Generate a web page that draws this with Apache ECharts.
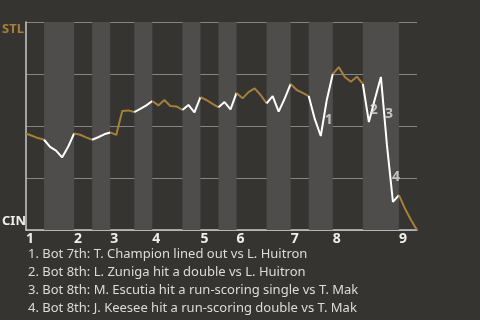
<!DOCTYPE html>
<html><head><meta charset="utf-8">
<script src="https://cdn.jsdelivr.net/npm/echarts@6/dist/echarts.min.js"></script>
<style>html,body{margin:0;padding:0;background:#363431;}#c{width:480px;height:320px;}</style>
</head><body><div id="c"></div>
<script>
// events per half-inning (T1, B1, T2, B2, ...)
const halfInningEvents = [3,5,3,3,4,3,5,3,3,3,5,4,3,4,5,6,3];
// STL win probability after each event (index 0 = game start)
const winProb = [
  0.464, 0.453, 0.442, 0.434,
  0.400, 0.382, 0.349, 0.400, 0.464,
  0.458, 0.445, 0.434,
  0.446, 0.460, 0.469,
  0.457, 0.572, 0.575, 0.567,
  0.582, 0.599, 0.620,
  0.599, 0.625, 0.596, 0.594, 0.577,
  0.601, 0.565, 0.639,
  0.625, 0.606, 0.590,
  0.615, 0.580, 0.659,
  0.633, 0.663, 0.681, 0.649, 0.609,
  0.644, 0.569, 0.632, 0.702,
  0.673, 0.659, 0.644,
  0.534, 0.452, 0.625, 0.750,
  0.783, 0.736, 0.713, 0.737, 0.702,
  0.519, 0.630, 0.736, 0.409, 0.135, 0.168,
  0.103, 0.048, 0.000
];
const inningLabels = ['1','2','3','4','5','6','7','8','9'];
const teamTop = 'STL';
const teamBottom = 'CIN';
const noteMarks = ['1','2','3','4'];
const noteEvents = [49, 57, 60, 61];
const notes = [
  '1. Bot 7th: T. Champion lined out vs L. Huitron',
  '2. Bot 8th: L. Zuniga hit a double vs L. Huitron',
  '3. Bot 8th: M. Escutia hit a run-scoring single vs T. Mak',
  '4. Bot 8th: J. Keesee hit a run-scoring double vs T. Mak'
];
// style-only offsets for note marks
const noteOffsets = [[8,-16],[5,-12],[2,-31],[3,-25]];

const GOLD = '#a67f3a', WHITE = '#ffffff';
const categories = winProb.map((_, i) => String(i));
const bounds = [0];
halfInningEvents.forEach(n => bounds.push(bounds[bounds.length-1] + n));
const inningStarts = bounds.filter((b, i) => i % 2 === 0).slice(0, 9);

const series = [];
const bands = [];
for (let h = 0; h < halfInningEvents.length; h++) {
  const s = bounds[h], e = bounds[h+1];
  if (h % 2 === 1) bands.push([{xAxis: categories[s]}, {xAxis: categories[e]}]);
  series.push({
    type: 'line', silent: true, symbol: 'none', animation: false,
    data: winProb.map((v, i) => (i >= s && i <= e) ? v : '-'),
    lineStyle: {color: h % 2 === 0 ? GOLD : WHITE, width: 2},
    z: 3
  });
}
series.push({
  type: 'line', data: [], silent: true, z: 1,
  markArea: {silent: true, itemStyle: {color: '#4e4d4b', opacity: 1}, data: bands}
});
series.push({
  type: 'scatter', symbolSize: 0, silent: true, z: 4, animation: false,
  data: noteEvents.map((idx, k) => ({
    value: [categories[idx], winProb[idx]],
    label: {show: true, formatter: noteMarks[k], position: 'inside', offset: noteOffsets[k],
      color: '#e0e0e0', fontSize: 14, fontWeight: 'bold', fontFamily: 'Noto Sans'}
  }))
});

const chart = echarts.init(document.getElementById('c'), null, {renderer: 'canvas'});
chart.setOption({
  backgroundColor: '#363431',
  animation: false,
  grid: {left: 26, right: 63, top: 22, bottom: 90, containLabel: false},
  xAxis: {
    type: 'category', data: categories, boundaryGap: false,
    axisLine: {show: true, lineStyle: {color: '#c8c8c8', width: 1.5}},
    axisTick: {show: false}, splitLine: {show: false},
    axisLabel: {
      interval: (i) => inningStarts.includes(i),
      formatter: (v, i) => { const k = inningStarts.indexOf(Number(v)); return k >= 0 ? inningLabels[k] : ''; },
      align: 'left', margin: 2, color: '#eeeeee', fontSize: 14, fontWeight: 'bold', fontFamily: 'Noto Sans'
    }
  },
  yAxis: {
    type: 'value', min: 0, max: 1, interval: 0.25,
    axisLine: {show: true, lineStyle: {color: '#c8c8c8', width: 1.5}},
    axisTick: {show: false},
    axisLabel: {show: false},
    splitLine: {show: true, lineStyle: {color: '#858585', width: 1}}
  },
  series: series,
  graphic: [
    {type: 'text', x: 2, y: 29, style: {text: teamTop, fill: GOLD, font: 'bold 13px "Noto Sans"', align: 'left', verticalAlign: 'middle'}},
    {type: 'text', x: 2, y: 221, style: {text: teamBottom, fill: '#eeeeee', font: 'bold 13px "Noto Sans"', align: 'left', verticalAlign: 'middle'}}
  ].concat(notes.map((t, k) => ({
    type: 'text', x: 28, y: 254 + k * 18,
    style: {text: t, fill: '#dcdcdc', font: '13px "Noto Sans"', align: 'left', verticalAlign: 'middle'}
  })))
});
</script></body></html>
